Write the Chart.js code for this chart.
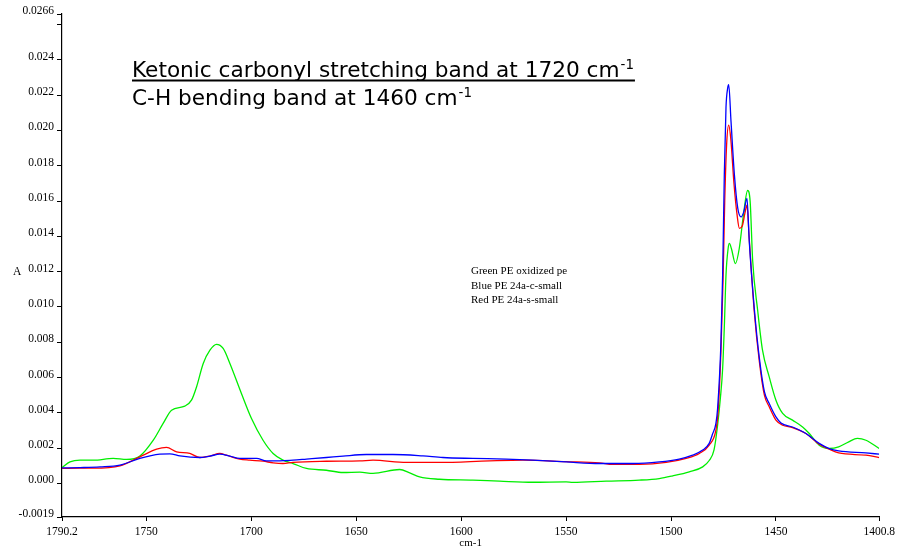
<!DOCTYPE html>
<html>
<head>
<meta charset="utf-8">
<script src="https://cdn.jsdelivr.net/npm/chart.js@4.4.1/dist/chart.umd.min.js"></script>
<style>
html,body{margin:0;padding:0;background:#fff;}
#wrap{width:899px;height:550px;position:relative;}
</style>
</head>
<body>
<div id="wrap"><canvas id="c" width="899" height="550"></canvas></div>
<script>
// ---- data (wavenumber cm-1, absorbance A) ----
const blueWavenumber = [1790.2,1781.6,1772.1,1762.6,1753.1,1743.6,1738.8,1734.0,1724.5,1719.7,1715.0,1710.2,1705.5,1697.5,1692.8,1686.4,1680.1,1673.7,1664.2,1656.3,1645.2,1632.5,1618.2,1608.7,1594.4,1578.5,1565.8,1550.0,1534.1,1518.2,1505.6,1496.1,1489.7,1484.9,1481.8,1480.2,1478.6,1477.8,1476.2,1475.4,1474.6,1473.8,1473.0,1472.5,1471.4,1469.8,1468.2,1466.6,1465.3,1463.8,1462.7,1460.3,1457.9,1455.5,1453.2,1450.0,1447.6,1442.1,1435.7,1429.4,1424.6,1420.1,1407.1,1400.8];
const blueAbsorbance = [0.00088,0.0009,0.00094,0.00104,0.00142,0.00166,0.00168,0.00156,0.00147,0.00155,0.00166,0.00155,0.00142,0.00142,0.00128,0.00128,0.00132,0.00138,0.00147,0.00155,0.00164,0.00164,0.00156,0.00147,0.00142,0.00138,0.00132,0.00122,0.00113,0.00113,0.00122,0.00138,0.0016,0.00189,0.00227,0.0028,0.0034,0.00425,0.008,0.0118,0.0175,0.0213,0.0224,0.0226,0.0205,0.0175,0.0156,0.0151,0.0154,0.01615,0.0137,0.0099,0.0071,0.0052,0.00453,0.00377,0.00343,0.0032,0.00283,0.00227,0.00198,0.00185,0.00173,0.00166];

const redWavenumber = [1790.2,1781.6,1775.3,1762.6,1753.1,1745.1,1740.4,1735.6,1729.3,1724.5,1719.7,1715.0,1711.8,1705.5,1700.7,1694.4,1689.6,1684.9,1680.1,1664.2,1648.3,1642.0,1626.1,1610.3,1586.5,1570.6,1550.0,1534.1,1527.8,1515.1,1502.3,1492.8,1486.5,1481.8,1478.6,1477.6,1476.2,1475.2,1474.4,1473.5,1472.5,1471.5,1470.0,1468.5,1467.4,1466.0,1464.8,1463.8,1462.8,1460.3,1457.9,1455.5,1453.2,1450.0,1446.8,1442.1,1435.7,1429.4,1424.6,1420.1,1407.1,1400.8];
const redAbsorbance = [0.00085,0.00087,0.00087,0.001,0.00151,0.00194,0.00204,0.00179,0.0017,0.00147,0.00155,0.0017,0.0016,0.00138,0.00132,0.00126,0.00117,0.00113,0.0012,0.00126,0.00128,0.00132,0.00119,0.00119,0.00128,0.00132,0.00124,0.00117,0.00108,0.00108,0.00119,0.00142,0.0017,0.00217,0.00302,0.004,0.0075,0.0115,0.016,0.0192,0.0203,0.0195,0.017,0.0152,0.01445,0.0146,0.0153,0.01577,0.014,0.0097,0.0069,0.005,0.00435,0.00359,0.0033,0.00317,0.00283,0.00223,0.00194,0.00173,0.0016,0.00147];

const greenWavenumber = [1790.2,1786.4,1781.6,1775.3,1765.8,1759.4,1753.1,1746.7,1742.0,1738.0,1731.7,1728.5,1726.1,1722.9,1719.7,1716.6,1713.4,1710.2,1704.7,1699.9,1694.4,1689.6,1684.9,1680.1,1673.7,1664.2,1656.3,1648.3,1642.0,1629.3,1624.5,1619.8,1610.3,1594.4,1581.7,1565.8,1550.0,1546.8,1530.9,1515.1,1505.6,1499.2,1491.3,1484.9,1481.8,1479.5,1477.8,1476.5,1475.4,1474.5,1473.8,1472.8,1472.2,1471.2,1469.3,1467.5,1465.5,1463.5,1462.3,1461.1,1458.7,1456.4,1453.2,1450.0,1446.8,1442.1,1437.3,1434.1,1429.4,1424.6,1420.1,1415.3,1411.2,1407.1,1400.8];
const greenAbsorbance = [0.0009,0.00122,0.00132,0.00132,0.00142,0.00136,0.00155,0.00245,0.0034,0.00415,0.00438,0.00472,0.00547,0.0068,0.00755,0.00788,0.00765,0.0068,0.0051,0.00368,0.00245,0.0017,0.00132,0.00113,0.00085,0.00075,0.00062,0.00064,0.00057,0.00079,0.0006,0.00037,0.00024,0.00019,0.00013,0.00007,0.00009,0.00006,0.00013,0.00019,0.00028,0.00043,0.00066,0.00094,0.0013,0.0019,0.0033,0.0048,0.0065,0.0092,0.0118,0.0133,0.0136,0.0133,0.01246,0.0133,0.0152,0.0166,0.016,0.01265,0.0098,0.00755,0.00604,0.00472,0.00397,0.00359,0.0032,0.00283,0.00217,0.00198,0.00207,0.00236,0.00255,0.00245,0.00198];

const seriesNames = ['Green PE oxidized pe','Blue PE 24a-c-small','Red PE 24a-s-small'];
const xTickValues = [1790.2,1750,1700,1650,1600,1550,1500,1450,1400.8];
const xTickLabels = ['1790.2','1750','1700','1650','1600','1550','1500','1450','1400.8'];
const yTickValues = [-0.0019,0,0.002,0.004,0.006,0.008,0.010,0.012,0.014,0.016,0.018,0.020,0.022,0.024,0.026,0.0266];
const yTickLabels = ['-0.0019','0.000','0.002','0.004','0.006','0.008','0.010','0.012','0.014','0.016','0.018','0.020','0.022','0.024','','0.0266'];
const titleLine1 = 'Ketonic carbonyl stretching band at 1720 cm';
const titleLine2 = 'C-H bending band at 1460 cm';
const titleSup = '-1';
const xAxisTitle = 'cm-1';
const yAxisTitle = 'A';

function pts(xs, ys){ return xs.map((x,i)=>({x:x, y:ys[i]})); }

const serif = '"Liberation Serif", "Times New Roman", serif';
const sans = '"DejaVu Sans", Verdana, sans-serif';

const textPlugin = {
  id: 'annotText',
  afterDraw(chart){
    const ctx = chart.ctx;
    ctx.save();
    ctx.fillStyle = '#000';
    ctx.textBaseline = 'alphabetic';
    ctx.textAlign = 'left';
    // fit the title font so the first line spans the same width as the original
    ctx.font = '20px ' + sans;
    const size = 20 * 488 / ctx.measureText(titleLine1).width;
    const big = size.toFixed(2) + 'px ' + sans, small = (size * 0.62).toFixed(2) + 'px ' + sans;
    const x0 = 132;
    ctx.font = big;
    ctx.fillText(titleLine1, x0, 77);
    let w1 = ctx.measureText(titleLine1).width;
    ctx.font = small;
    ctx.fillText(titleSup, x0 + w1 + 1, 69);
    let ws = ctx.measureText(titleSup).width;
    ctx.fillRect(x0, 79.5, w1 + ws + 2, 2);
    ctx.font = big;
    ctx.fillText(titleLine2, x0, 105);
    let w2 = ctx.measureText(titleLine2).width;
    ctx.font = small;
    ctx.fillText(titleSup, x0 + w2 + 1, 97);
    // series legend text
    ctx.font = '11px ' + serif;
    ctx.textBaseline = 'middle';
    seriesNames.forEach((s,i)=>ctx.fillText(s, 471, 271.5 + i*14.3));
    // y axis title
    ctx.font = '11.5px ' + serif;
    ctx.fillText(yAxisTitle, 13, 272);
    ctx.restore();
  }
};

new Chart(document.getElementById('c'), {
  type: 'line',
  data: {
    datasets: [
      {label: seriesNames[1], data: pts(blueWavenumber, blueAbsorbance), borderColor: '#0000ff'},
      {label: seriesNames[2], data: pts(redWavenumber, redAbsorbance), borderColor: '#ff0000'},
      {label: seriesNames[0], data: pts(greenWavenumber, greenAbsorbance), borderColor: '#00ee00'}
    ]
  },
  options: {
    responsive: false,
    animation: false,
    elements: {
      point: {radius: 0, hoverRadius: 0},
      line: {borderWidth: 1.3, cubicInterpolationMode: 'monotone', fill: false}
    },
    layout: {padding: {left: 0, right: 19, top: 14, bottom: 0}},
    plugins: {legend: {display: false}, tooltip: {enabled: false}, title: {display: false}},
    scales: {
      x: {
        type: 'linear', reverse: true, min: 1400.8, max: 1790.2,
        afterBuildTicks: s => { s.ticks = xTickValues.map(v => ({value: v})); },
        afterFit: s => { s.height = 33; },
        ticks: {
          autoSkip: false, maxRotation: 0, minRotation: 0, padding: 4,
          color: '#000', font: {family: serif, size: 11.5},
          callback: (v) => { const i = xTickValues.indexOf(v); return i >= 0 ? xTickLabels[i] : ''; }
        },
        grid: {drawOnChartArea: false, drawTicks: true, tickLength: 4, color: '#000', lineWidth: 1},
        border: {display: true, color: '#000', width: 1.2},
        title: {display: true, text: xAxisTitle, color: '#000', font: {family: serif, size: 11}, padding: {top: 0, bottom: 0}}
      },
      y: {
        type: 'linear', min: -0.0019, max: 0.0266,
        afterBuildTicks: s => { s.ticks = yTickValues.map(v => ({value: v})); },
        afterFit: s => { s.width = 62; },
        ticks: {
          autoSkip: false, padding: 3, labelOffset: -3,
          color: '#000', font: {family: serif, size: 11.5},
          callback: (v) => { const i = yTickValues.indexOf(v); return i >= 0 ? yTickLabels[i] : ''; }
        },
        grid: {drawOnChartArea: false, drawTicks: true, tickLength: 5, color: '#000', lineWidth: 1},
        border: {display: true, color: '#000', width: 1.2}
      }
    }
  },
  plugins: [textPlugin]
});
</script>
</body>
</html>
